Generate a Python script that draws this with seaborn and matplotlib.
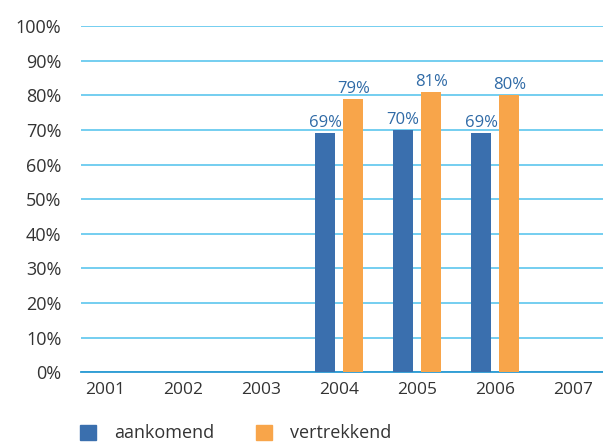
import numpy as np
import pandas as pd
import matplotlib
matplotlib.use("Agg")
import matplotlib.pyplot as plt
from matplotlib.patches import Patch
import seaborn as sns

# data
jaren = ["2001", "2002", "2003", "2004", "2005", "2006", "2007"]
aankomend = [np.nan, np.nan, np.nan, 69, 70, 69, np.nan]
vertrekkend = [np.nan, np.nan, np.nan, 79, 81, 80, np.nan]
reeksen = ["aankomend", "vertrekkend"]
kleuren = ["#3a6fae", "#f8a54a"]

tabel = pd.DataFrame({
    "jaar": jaren * 2,
    "waarde": aankomend + vertrekkend,
    "reeks": [reeksen[0]] * len(jaren) + [reeksen[1]] * len(jaren),
})

sns.set_style("white")
plt.rcParams["font.family"] = ["Open Sans", "DejaVu Sans"]

fig = plt.figure(figsize=(6.03, 4.43), dpi=100)
ax = fig.add_axes([0.134, 0.160, 0.866, 0.781])

sns.barplot(data=tabel, x="jaar", y="waarde", hue="reeks", order=jaren,
            hue_order=reeksen, palette=kleuren, width=0.72, gap=0.28,
            saturation=1, linewidth=0, ax=ax, legend=False, zorder=3)

# percentage labels above the bars (skip missing years)
for cont in ax.containers:
    for bar in cont:
        if bar is None or np.isnan(bar.get_height()):
            continue
        h = bar.get_height()
        ax.annotate(f"{h:.0f}%", (bar.get_x() + bar.get_width() / 2, h),
                    xytext=(0, 1.5), textcoords="offset points",
                    ha="center", va="bottom", color="#2f6aa6", fontsize=12)

ax.set_ylim(0, 100)
ax.set_xlim(-0.31, 6.38)
ax.set_yticks(range(0, 101, 10))
ax.set_yticklabels([f"{t}%" for t in range(0, 101, 10)])
ax.set_xlabel("")
ax.set_ylabel("")

ax.grid(axis="y", color="#5cc6ee", linewidth=1.2, zorder=0)
ax.grid(axis="x", visible=False)
for s in ["top", "right", "left"]:
    ax.spines[s].set_visible(False)
ax.spines["bottom"].set_color("#2a9ad3")
ax.spines["bottom"].set_linewidth(1.3)
ax.tick_params(axis="y", length=0, pad=14, labelsize=13, labelcolor="#333333")
ax.tick_params(axis="x", length=0, pad=7, labelsize=12.5, labelcolor="#333333")

handles = [Patch(color=kleuren[0], label=reeksen[0]),
           Patch(color=kleuren[1], label=reeksen[1])]
fig.legend(handles=handles, loc="lower left", bbox_to_anchor=(0.105, -0.035),
           ncol=2, frameon=False, fontsize=13, handlelength=0.9,
           handleheight=0.9, columnspacing=2.3, handletextpad=1.0,
           labelcolor="#333333")

fig.savefig("out.png", dpi=100)
